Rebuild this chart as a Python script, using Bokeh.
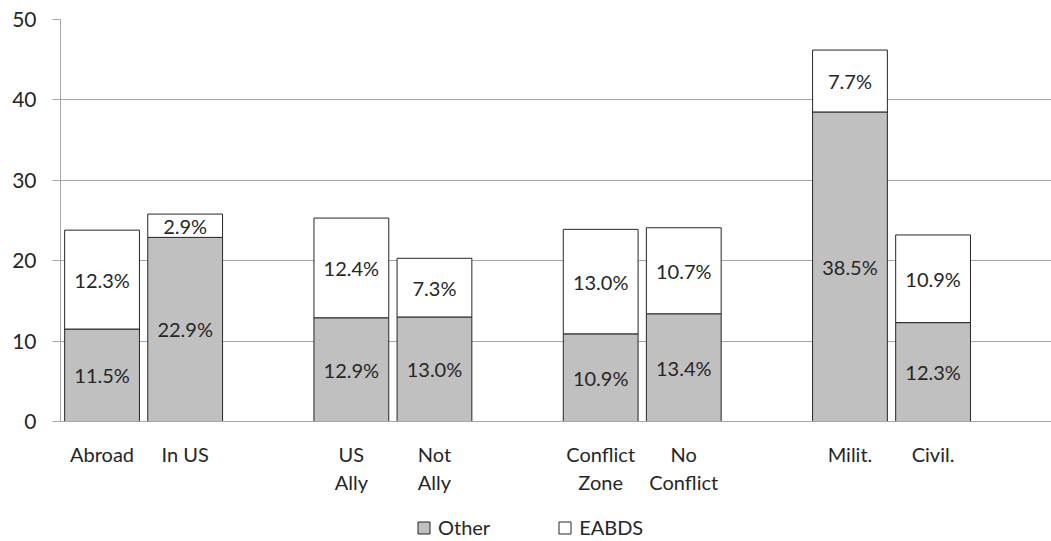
from bokeh.plotting import figure
from bokeh.models import Range1d, FixedTicker, Legend, LegendItem, ColumnDataSource
from bokeh.core.properties import value
from bokeh.embed import file_html
from bokeh.resources import INLINE

# Stacked shares per category pair
categories = ["Abroad", "In US", "US\nAlly", "Not\nAlly",
              "Conflict\nZone", "No\nConflict", "Milit.", "Civil."]
other = [11.5, 22.9, 12.9, 13.0, 10.9, 13.4, 38.5, 12.3]
eabds = [12.3, 2.9, 12.4, 7.3, 13.0, 10.7, 7.7, 10.9]
y_ticks = [0, 10, 20, 30, 40, 50]
series_names = ["Other", "EABDS"]

FONT = "Lato"
TEXT = "#262626"
GRID = "#a6a6a6"

# pairs of bars separated by one empty slot
xs = [3 * (i // 2) + i % 2 for i in range(len(categories))]

src = ColumnDataSource(dict(
    x=xs,
    other=other,
    eabds=eabds,
    other_mid=[o / 2 for o in other],
    eabds_mid=[o + e / 2 for o, e in zip(other, eabds)],
    other_lab=[f"{v:.1f}%" for v in other],
    eabds_lab=[f"{v:.1f}%" for v in eabds],
))

# the frame runs to the bottom edge so the legend can sit below the axis
p = figure(width=1051, height=541, output_backend="svg", toolbar_location=None,
           x_range=Range1d(-0.5, 11.425), y_range=Range1d(-14.925, 50),
           min_border_left=60, min_border_right=0, min_border_top=19,
           min_border_bottom=0)
p.outline_line_color = None
p.background_fill_color = "white"
p.border_fill_color = "white"

stack = p.vbar_stack(["other", "eabds"], x="x", width=0.9, source=src,
                     fill_color=["#c0c0c0", "white"], line_color=TEXT,
                     line_width=1)

for ycol, tcol in (("other_mid", "other_lab"), ("eabds_mid", "eabds_lab")):
    p.text(x="x", y=ycol, text=tcol, source=src, text_font=value(FONT),
           text_font_size="20px", text_color=TEXT, text_align="center",
           text_baseline="middle")

# axes
p.xgrid.visible = False
p.ygrid.grid_line_color = GRID
p.ygrid.ticker = FixedTicker(ticks=y_ticks)

p.yaxis.ticker = FixedTicker(ticks=y_ticks)
p.yaxis.bounds = (0, 50)
p.yaxis.axis_line_color = GRID
p.yaxis.major_tick_line_color = GRID
p.yaxis.major_tick_out = 8
p.yaxis.major_tick_in = 0
p.yaxis.minor_tick_line_color = None
p.yaxis.major_label_text_font = FONT
p.yaxis.major_label_text_font_size = "21px"
p.yaxis.major_label_text_color = TEXT
p.yaxis.major_label_standoff = 16

p.xaxis.fixed_location = 0
p.xaxis.ticker = FixedTicker(ticks=xs)
p.xaxis.major_label_overrides = {x: c for x, c in zip(xs, categories)}
p.xaxis.axis_line_color = GRID
p.xaxis.major_tick_line_color = None
p.xaxis.minor_tick_line_color = None
p.xaxis.major_label_text_font = FONT
p.xaxis.major_label_text_font_size = "20px"
p.xaxis.major_label_text_color = TEXT
p.xaxis.major_label_standoff = 14

legend = Legend(
    items=[LegendItem(label=n, renderers=[r]) for n, r in zip(series_names, stack)],
    location=(356, 2), orientation="horizontal",
    padding=0, margin=0, spacing=67, label_standoff=7,
    glyph_width=15, glyph_height=15,
    label_text_font=FONT, label_text_font_size="20px", label_text_color=TEXT,
    border_line_color=None, background_fill_alpha=0,
)
p.add_layout(legend)

open("out.html", "w").write(file_html(p, INLINE))
